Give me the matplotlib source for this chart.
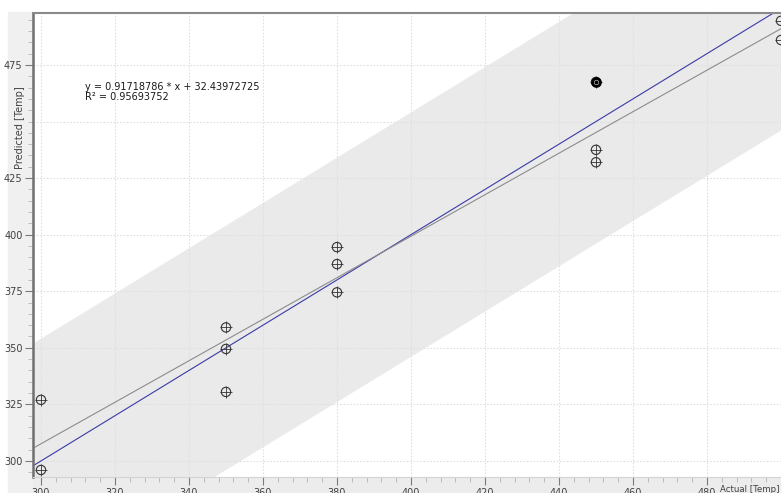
import numpy as np
import matplotlib.pyplot as plt
from matplotlib.patches import Rectangle
from matplotlib.ticker import MultipleLocator, FixedLocator

# Observed vs predicted temperatures
actual = [300, 300, 350, 350, 350, 380, 380, 380, 450, 450, 450, 500, 500]
predicted = [327, 296, 359, 349.5, 330.5, 394.5, 387, 374.5, 467.5, 437.5, 432, 494.5, 486]
highlight = (450, 467.5)

# Regression shown on the chart
slope = 0.91718786
intercept = 32.43972725
r2 = 0.95693752
band_half = 54

x_ticks = [300, 320, 340, 360, 380, 400, 420, 440, 460, 480]
y_labels = {300: '300', 325: '325', 350: '350', 375: '375', 400: '400',
            425: '425', 475: '475'}

fig = plt.figure(figsize=(7.81, 4.93), dpi=100)
W, H = 781, 493

# Grey strips behind the axes
fig.patches.append(Rectangle((8 / W, 0), (33 - 8) / W, 1 - 12 / H,
                             transform=fig.transFigure, color='#f0f0f0', zorder=-1))
fig.patches.append(Rectangle((33 / W, 0), 1, 16 / H,
                             transform=fig.transFigure, color='#ececec', zorder=-1))

ax = fig.add_axes([33 / W, 16 / H, (W - 33) / W, (477 - 13) / H])
ax.set_xlim(297.84, 500)
ax.set_ylim(292.9, 497.96)

# Band around the identity line
xs = np.array(ax.get_xlim())
ax.fill_between(xs, xs - band_half, xs + band_half, color='#eaeaea', lw=0, zorder=0)

# Grid
for v in x_ticks:
    ax.axvline(v, color='#e0e0e0', lw=0.8, ls=(0, (1.5, 1.5)), zorder=1)
for v in range(300, 500, 25):
    ax.axhline(v, color='#e0e0e0', lw=0.8, ls=(0, (1.5, 1.5)), zorder=1)

# Lines: identity and regression
ax.plot(xs, xs, color='#3a3aa8', lw=0.8, zorder=2)
ax.plot(xs, slope * xs + intercept, color='#8c8c8c', lw=0.8, zorder=2)

# Points with crosshair markers
ax.scatter(actual, predicted, s=45, facecolors='none', edgecolors='#333333',
           linewidths=0.8, zorder=3, clip_on=False)
ax.scatter(actual, predicted, s=70, marker='+', color='#333333',
           linewidths=0.6, zorder=3, clip_on=False)
ax.scatter([highlight[0]], [highlight[1]], s=32, facecolors='white',
           edgecolors='black', linewidths=2.0, zorder=4)
ax.scatter([highlight[0]], [highlight[1]], s=4, color='black', zorder=5)

ax.text(311.9, 467.5, 'y = 0.91718786 * x + 32.43972725\nR\u00b2 = 0.95693752',
        fontsize=7, va='top', ha='left', color='#1a1a1a', linespacing=1.0)

# Axes styling
ax.spines['right'].set_visible(False)
ax.spines['top'].set_color('#8a8a8a')
ax.spines['top'].set_linewidth(1.5)
ax.spines['left'].set_color('#707070')
ax.spines['left'].set_linewidth(1.8)
ax.spines['bottom'].set_color('#d4d4d4')
ax.spines['bottom'].set_linewidth(0.8)

ax.xaxis.set_major_locator(FixedLocator(x_ticks))
ax.xaxis.set_minor_locator(MultipleLocator(4))
ax.yaxis.set_major_locator(FixedLocator(list(y_labels.keys())))
ax.yaxis.set_minor_locator(MultipleLocator(5))
ax.set_yticklabels(list(y_labels.values()))
ax.tick_params(axis='both', which='major', direction='out', length=6, width=0.8,
               color='#7a7a7a', labelsize=7, labelcolor='#404040')
ax.tick_params(axis='both', which='minor', direction='out', length=3.5, width=0.5,
               color='#a8a8a8')
ax.tick_params(axis='x', which='major', pad=2)
ax.tick_params(axis='y', which='major', pad=1.5)

fig.text(20 / W, 1 - 127.5 / H, 'Predicted [Temp]', rotation=90, fontsize=7,
         ha='center', va='center', color='#404040')
fig.text(780 / W, 1 - 490 / H, 'Actual [Temp]', fontsize=6.2, ha='right',
         va='center', color='#404040')

fig.savefig('out.png', dpi=100)
